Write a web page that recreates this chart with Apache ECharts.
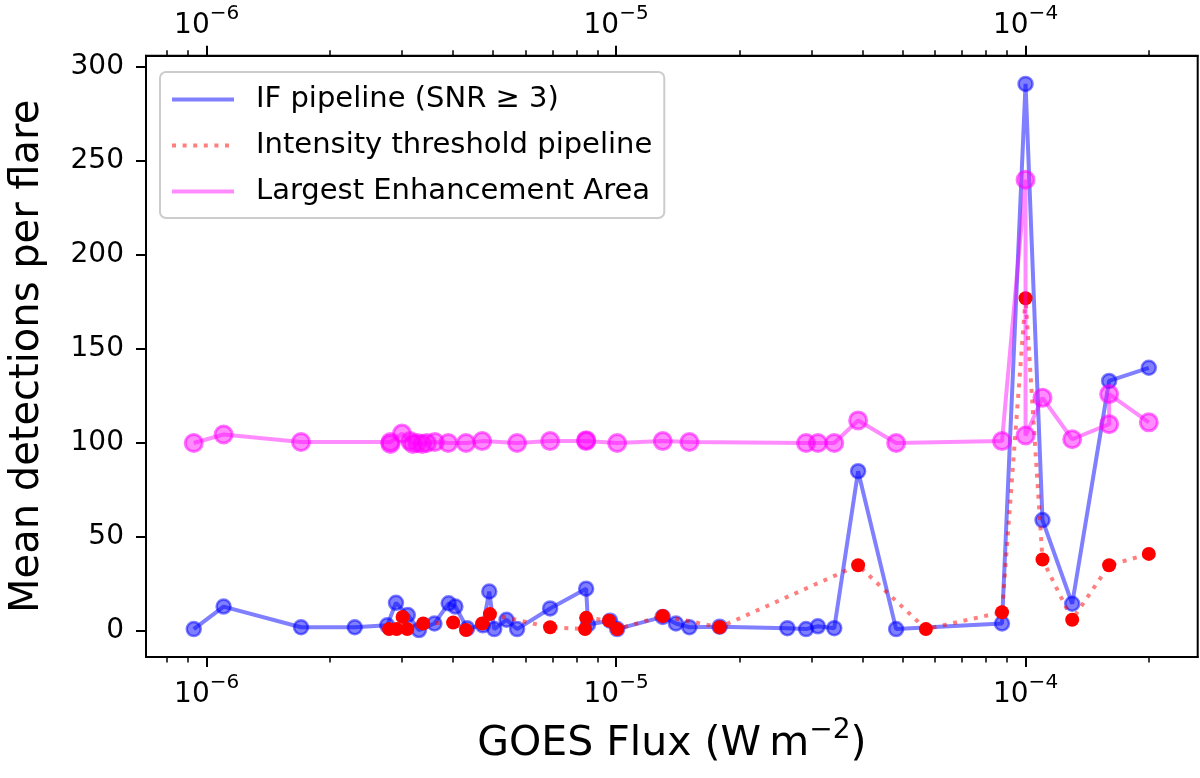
<!DOCTYPE html>
<html><head><meta charset="utf-8">
<script src="https://cdn.jsdelivr.net/npm/echarts@6/dist/echarts.min.js"></script>
<style>html,body{margin:0;padding:0;background:#fff}#c{width:1200px;height:778px}</style>
</head><body><div id="c"></div>
<script>
// ---- data ----
const ifFlux = [9.3e-7, 1.1e-6, 1.7e-6, 2.3e-6, 2.76e-6, 2.9e-6, 3.1e-6, 3.3e-6, 3.6e-6, 3.9e-6, 4.05e-6, 4.33e-6, 4.73e-6, 4.9e-6, 5.04e-6, 5.4e-6, 5.73e-6, 6.9e-6, 8.45e-6, 8.54e-6, 9.67e-6, 1.006e-5, 1.3e-5, 1.4e-5, 1.51e-5, 1.79e-5, 2.62e-5, 2.91e-5, 3.11e-5, 3.41e-5, 3.9e-5, 4.83e-5, 8.76e-5, 1.0e-4, 1.1e-4, 1.3e-4, 1.6e-4, 2.0e-4];
const ifVals = [1, 13, 2, 2, 3, 15, 8.5, 0.5, 4, 14.7, 13, 1.4, 3, 21, 1, 6, 1, 12, 22.5, 3.5, 5.5, 1, 7.5, 4, 2, 2.3, 1.5, 1, 2.5, 1.5, 85, 1, 4, 291, 59, 14.5, 133, 140];

const itFlux = [2.79e-6, 2.91e-6, 3.01e-6, 3.09e-6, 3.38e-6, 4.0e-6, 4.3e-6, 4.71e-6, 4.92e-6, 6.9e-6, 8.4e-6, 8.45e-6, 9.61e-6, 1.006e-5, 1.3e-5, 1.79e-5, 3.9e-5, 5.71e-5, 8.76e-5, 1.0e-4, 1.1e-4, 1.3e-4, 1.6e-4, 2.0e-4];
const itVals = [1, 1, 7.5, 1, 4, 4.5, 0.5, 4, 9, 2, 1, 7, 5.5, 1, 8, 2, 35, 1, 10, 177, 38, 6, 35, 41];

const leaFlux = [9.3e-7, 1.1e-6, 1.7e-6, 2.81e-6, 2.81e-6, 3.0e-6, 3.14e-6, 3.19e-6, 3.27e-6, 3.36e-6, 3.45e-6, 3.61e-6, 3.89e-6, 4.3e-6, 4.71e-6, 5.73e-6, 6.9e-6, 8.45e-6, 8.45e-6, 1.006e-5, 1.3e-5, 1.51e-5, 2.91e-5, 3.11e-5, 3.41e-5, 3.9e-5, 4.83e-5, 8.76e-5, 1.0e-4, 1.0e-4, 1.1e-4, 1.3e-4, 1.6e-4, 1.6e-4, 2.0e-4];
const leaVals = [100, 104.5, 100.5, 100.5, 99.5, 105, 101, 99.5, 100, 99.5, 100, 100.5, 100, 100, 101, 100, 101, 101, 101.5, 100, 101, 100.5, 100, 100, 100, 112, 100, 101, 240, 104, 124, 102, 110, 126, 111];

const seriesNames = ['IF pipeline (SNR \u2265 3)', 'Intensity threshold pipeline', 'Largest Enhancement Area'];
const xMajorTicks = [1e-6, 1e-5, 1e-4];
const xMinorTicks = [8e-7, 9e-7, 2e-6, 3e-6, 4e-6, 5e-6, 6e-6, 7e-6, 8e-6, 9e-6, 2e-5, 3e-5, 4e-5, 5e-5, 6e-5, 7e-5, 8e-5, 9e-5, 2e-4];
const yTicks = [0, 50, 100, 150, 200, 250, 300];
const xTitle = '{a|GOES Flux (W\u2009m}{s|\u22122}{a|)}';
const yTitle = 'Mean detections per flare';

// ---- build ----
const FONT = 'DejaVu Sans';
const pairs = (xs, ys) => xs.map((x, i) => [x, ys[i]]);
const X_MIN = 7.11e-7, X_MAX = 2.633e-4, Y_MIN = -13.83, Y_MAX = 306.0;

function powLabel(v) {
  const e = Math.round(Math.log10(v));
  if (Math.abs(Math.log10(v) - e) > 1e-6) return '';
  return '{b|10}{s|' + (e < 0 ? '\u2212' + (-e) : e) + '}';
}
const labelRich = {
  b: { fontFamily: FONT, fontSize: 28, color: '#000', lineHeight: 36, verticalAlign: 'bottom' },
  s: { fontFamily: FONT, fontSize: 20, color: '#000', lineHeight: 22, verticalAlign: 'top' }
};

function xAxisDef(pos, major) {
  return {
    type: 'log', logBase: 10, position: pos, gridIndex: 0,
    min: X_MIN, max: X_MAX,
    axisLine: { show: major, onZero: false, lineStyle: { color: '#000', width: 2 } },
    axisTick: { show: true, inside: false, length: major ? 10 : 5.5, customValues: major ? xMajorTicks : xMinorTicks,
      lineStyle: { color: '#000', width: major ? 2 : 1.5 } },
    minorTick: { show: false },
    axisLabel: major ? { show: true, customValues: xMajorTicks, formatter: powLabel, margin: 16, rich: labelRich } : { show: false },
    splitLine: { show: false },
    name: (major && pos === 'bottom') ? xTitle : '',
    nameLocation: 'middle', nameGap: 60,
    nameTextStyle: { rich: {
      a: { fontFamily: FONT, fontSize: 41, color: '#000', lineHeight: 48, verticalAlign: 'bottom' },
      s: { fontFamily: FONT, fontSize: 28, color: '#000', lineHeight: 30, verticalAlign: 'top' }
    } },
    silent: true
  };
}

const chart = echarts.init(document.getElementById('c'), null, { renderer: 'canvas' });
chart.setOption({
  animation: false,
  backgroundColor: '#ffffff',
  grid: { left: 146, right: 2.3, top: 55.7, bottom: 121, containLabel: false, outerBoundsMode: 'none',
    show: true, borderColor: '#000', borderWidth: 2, backgroundColor: 'transparent' },
  xAxis: [xAxisDef('bottom', true), xAxisDef('bottom', false), xAxisDef('top', true), xAxisDef('top', false)],
  yAxis: {
    type: 'value', min: Y_MIN, max: Y_MAX,
    axisLine: { show: true, onZero: false, lineStyle: { color: '#000', width: 2 } },
    axisTick: { show: true, length: 10, customValues: yTicks, lineStyle: { color: '#000', width: 2 } },
    axisLabel: { customValues: yTicks, fontFamily: FONT, fontSize: 28, color: '#000', margin: 22 },
    splitLine: { show: false },
    name: yTitle, nameLocation: 'middle', nameRotate: 90, nameGap: 98,
    nameTextStyle: { fontFamily: FONT, fontSize: 40, color: '#000' }
  },
  legend: {
    orient: 'vertical', left: 160, top: 72,
    itemWidth: 62, itemHeight: 14, itemGap: 13,
    padding: [11, 12, 10, 10],
    borderColor: '#cccccc', borderWidth: 2, borderRadius: 6, backgroundColor: 'rgba(255,255,255,0.8)',
    textStyle: { fontFamily: FONT, fontSize: 29, color: '#000', lineHeight: 33, padding: [0, 0, 0, 17] },
    itemStyle: { opacity: 0 },
    lineStyle: { width: 4 },
    data: seriesNames,
    selectedMode: false
  },
  series: [
    {
      name: seriesNames[0], type: 'line', xAxisIndex: 0, data: pairs(ifFlux, ifVals),
      symbol: 'circle', symbolSize: 14, showSymbol: true, z: 2,
      itemStyle: { color: 'rgba(0,0,255,0.5)', borderColor: 'rgba(0,0,255,0.5)', borderWidth: 2.5 },
      lineStyle: { color: 'rgba(0,0,255,0.5)', width: 4 },
      emphasis: { disabled: true }
    },
    {
      name: seriesNames[1], type: 'line', xAxisIndex: 0, data: pairs(itFlux, itVals),
      symbol: 'circle', symbolSize: 14, showSymbol: true, z: 3,
      itemStyle: { color: '#ff0000' },
      lineStyle: { color: 'rgba(255,0,0,0.5)', width: 4, type: [4, 6.6], cap: 'butt' },
      emphasis: { disabled: true }
    },
    {
      name: seriesNames[2], type: 'line', xAxisIndex: 0, data: pairs(leaFlux, leaVals),
      symbol: 'circle', symbolSize: 17, showSymbol: true, z: 4,
      itemStyle: { color: 'rgba(255,0,255,0.45)', borderColor: 'rgba(255,0,255,0.55)', borderWidth: 3 },
      lineStyle: { color: 'rgba(255,0,255,0.45)', width: 4 },
      emphasis: { disabled: true }
    }
  ]
});
</script>
</body></html>
